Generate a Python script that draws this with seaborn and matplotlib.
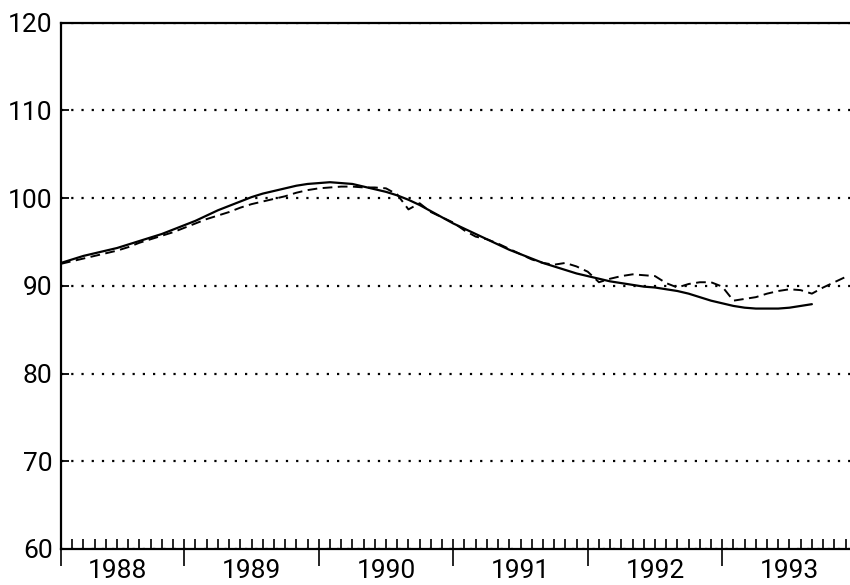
import numpy as np
import pandas as pd
import matplotlib
matplotlib.use("Agg")
import matplotlib.pyplot as plt
import seaborn as sns

# months counted from Jan 1988 = 0
trend_months = list(range(1, 69))
trend = [92.6, 93.0, 93.4, 93.7, 94.0, 94.3, 94.7, 95.1, 95.5, 95.9, 96.4, 96.9,
         97.4, 98.0, 98.6, 99.1, 99.6, 100.1, 100.5, 100.8, 101.1, 101.4, 101.6, 101.7,
         101.8, 101.7, 101.6, 101.3, 101.0, 100.7, 100.3, 99.8, 99.2, 98.5, 97.8, 97.1,
         96.5, 95.9, 95.3, 94.7, 94.1, 93.6, 93.1, 92.6, 92.2, 91.8, 91.4, 91.1,
         90.8, 90.5, 90.3, 90.1, 89.9, 89.8, 89.6, 89.4, 89.1, 88.7, 88.3, 88.0,
         87.7, 87.5, 87.4, 87.4, 87.4, 87.5, 87.7, 87.9]

actual_months = list(range(1, 72))
actual = [92.5, 92.8, 93.1, 93.4, 93.7, 94.0, 94.4, 94.9, 95.3, 95.7, 96.1, 96.6,
          97.1, 97.6, 98.0, 98.4, 98.9, 99.3, 99.6, 99.9, 100.2, 100.6, 100.9, 101.1,
          101.2, 101.3, 101.3, 101.2, 101.2, 101.1, 100.4, 98.7, 99.4, 98.4, 97.8, 97.2,
          96.3, 95.6, 95.3, 94.8, 94.2, 93.6, 93.0, 92.6, 92.4, 92.6, 92.2, 91.6,
          90.4, 90.8, 91.1, 91.3, 91.2, 91.1, 90.3, 89.8, 90.2, 90.4, 90.4, 89.9,
          88.3, 88.5, 88.7, 89.1, 89.4, 89.6, 89.5, 89.1, 89.8, 90.4, 91.0]

years = ["1988", "1989", "1990", "1991", "1992", "1993"]
y_ticks = [60, 70, 80, 90, 100, 110, 120]

sns.set_style("white")
plt.rcParams["font.family"] = ["Roboto", "DejaVu Sans"]
plt.rcParams["text.color"] = "black"
plt.rcParams["xtick.color"] = "black"
plt.rcParams["ytick.color"] = "black"

fig = plt.figure(figsize=(8.5, 5.85), dpi=100)
ax = fig.add_axes([61 / 850, 1 - 549 / 585, (850 - 61) / 850, (549 - 22.5) / 585])

sns.lineplot(x=trend_months, y=trend, ax=ax, color="black", lw=1.6)
sns.lineplot(x=actual_months, y=actual, ax=ax, color="black", lw=1.4,
             linestyle=(0, (5, 2.8)))

ax.set_xlim(1, 71.4)
ax.set_ylim(60, 120)

# y axis
ax.set_yticks(y_ticks)
ax.set_yticklabels([str(v) for v in y_ticks], fontsize=19)
ax.tick_params(axis="y", direction="in", length=6, width=1.3, pad=6, left=True,
               labelcolor="black")
ax.grid(axis="y", color="black", linestyle=(0, (1, 3.6)), lw=1.6)
ax.grid(axis="x", visible=False)

# x axis: year labels in the middle of each year, monthly ticks inside
ax.xaxis.remove_overlapping_locs = False
ax.set_xticks([12 * i + 6 for i in range(len(years))])
ax.set_xticklabels(years, fontsize=19)
ax.set_xticks(range(1, 72), minor=True)
ax.tick_params(axis="x", which="major", length=0, pad=7, labelcolor="black")
ax.tick_params(axis="x", which="minor", direction="in", length=7.2, width=1.2, bottom=True)

# year boundary ticks pointing down
sec = ax.secondary_xaxis("bottom")
sec.set_xticks([1] + [12 * i for i in range(1, len(years))])
sec.set_xticklabels([])
sec.tick_params(direction="out", length=12, width=1.2)
sec.spines["bottom"].set_visible(False)

for side in ["left", "bottom", "top"]:
    ax.spines[side].set_linewidth(1.6)
    ax.spines[side].set_color("black")
ax.spines["right"].set_visible(False)
ax.set_xlabel("")
ax.set_ylabel("")

fig.savefig("out.png", dpi=100, facecolor="white")
